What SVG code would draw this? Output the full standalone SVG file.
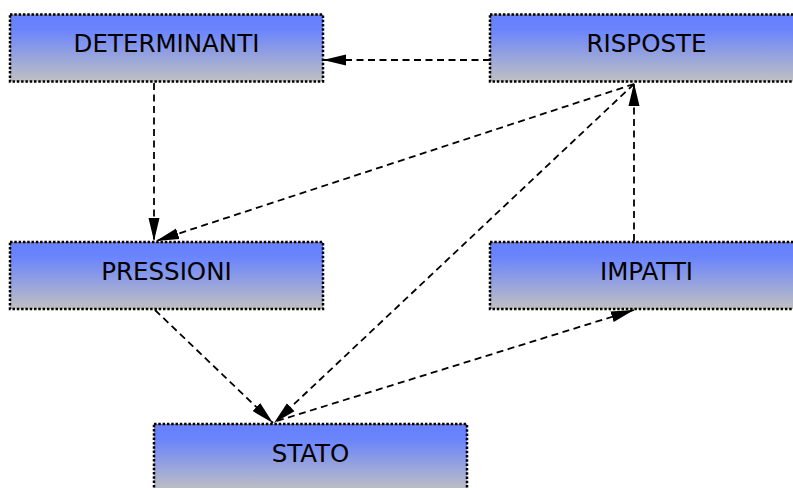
<svg xmlns="http://www.w3.org/2000/svg" width="793" height="488" viewBox="0 0 793 488">
  <defs>
    <linearGradient id="boxfill" x1="0" y1="0" x2="0" y2="1">
      <stop offset="0" stop-color="#6680FF"/>
      <stop offset="0.22" stop-color="#6A84FC"/>
      <stop offset="1" stop-color="#C0C0C0"/>
    </linearGradient>
    <marker id="arrow" markerUnits="userSpaceOnUse" markerWidth="25" markerHeight="13" refX="23" refY="6" orient="auto">
      <path d="M0,0.5 L23,6 L0,11.5 z" fill="#000"/>
    </marker>
  </defs>
  <style>
    .box { fill: url(#boxfill); stroke: #000; stroke-width: 2.5; stroke-dasharray: 2.5 1.8; }
    .label { font-family: "DejaVu Sans", Verdana, sans-serif; font-size: 24.5px; fill: #000; text-anchor: middle; }
    .edge { fill: none; stroke: #000; stroke-width: 1.8; stroke-dasharray: 7 4.5; marker-end: url(#arrow); }
  </style>
  <rect width="793" height="488" fill="#fff"/>
  <g id="connectors">
    <line class="edge" x1="490" y1="60" x2="323" y2="60"/>
    <line class="edge" x1="154" y1="83" x2="154" y2="241"/>
    <line class="edge" x1="634" y1="84" x2="156" y2="241"/>
    <line class="edge" x1="634" y1="84" x2="274" y2="423"/>
    <line class="edge" x1="634" y1="241" x2="634" y2="83"/>
    <line class="edge" x1="155" y1="310" x2="273" y2="423"/>
    <line class="edge" x1="277" y1="421" x2="634" y2="310"/>
  </g>
  <g id="determinanti">
    <rect class="box" x="10" y="14.5" width="313" height="67"/>
    <text class="label" x="166.5" y="52">DETERMINANTI</text>
  </g>
  <g id="risposte">
    <rect class="box" x="490" y="14.5" width="313" height="67"/>
    <text class="label" x="646.5" y="52">RISPOSTE</text>
  </g>
  <g id="pressioni">
    <rect class="box" x="10" y="242" width="313" height="67"/>
    <text class="label" x="166.5" y="279.5">PRESSIONI</text>
  </g>
  <g id="impatti">
    <rect class="box" x="490" y="242" width="313" height="67"/>
    <text class="label" x="646.5" y="279.5">IMPATTI</text>
  </g>
  <g id="stato">
    <rect class="box" x="154" y="424" width="313" height="67"/>
    <text class="label" x="310.5" y="461.5">STATO</text>
  </g>
</svg>
